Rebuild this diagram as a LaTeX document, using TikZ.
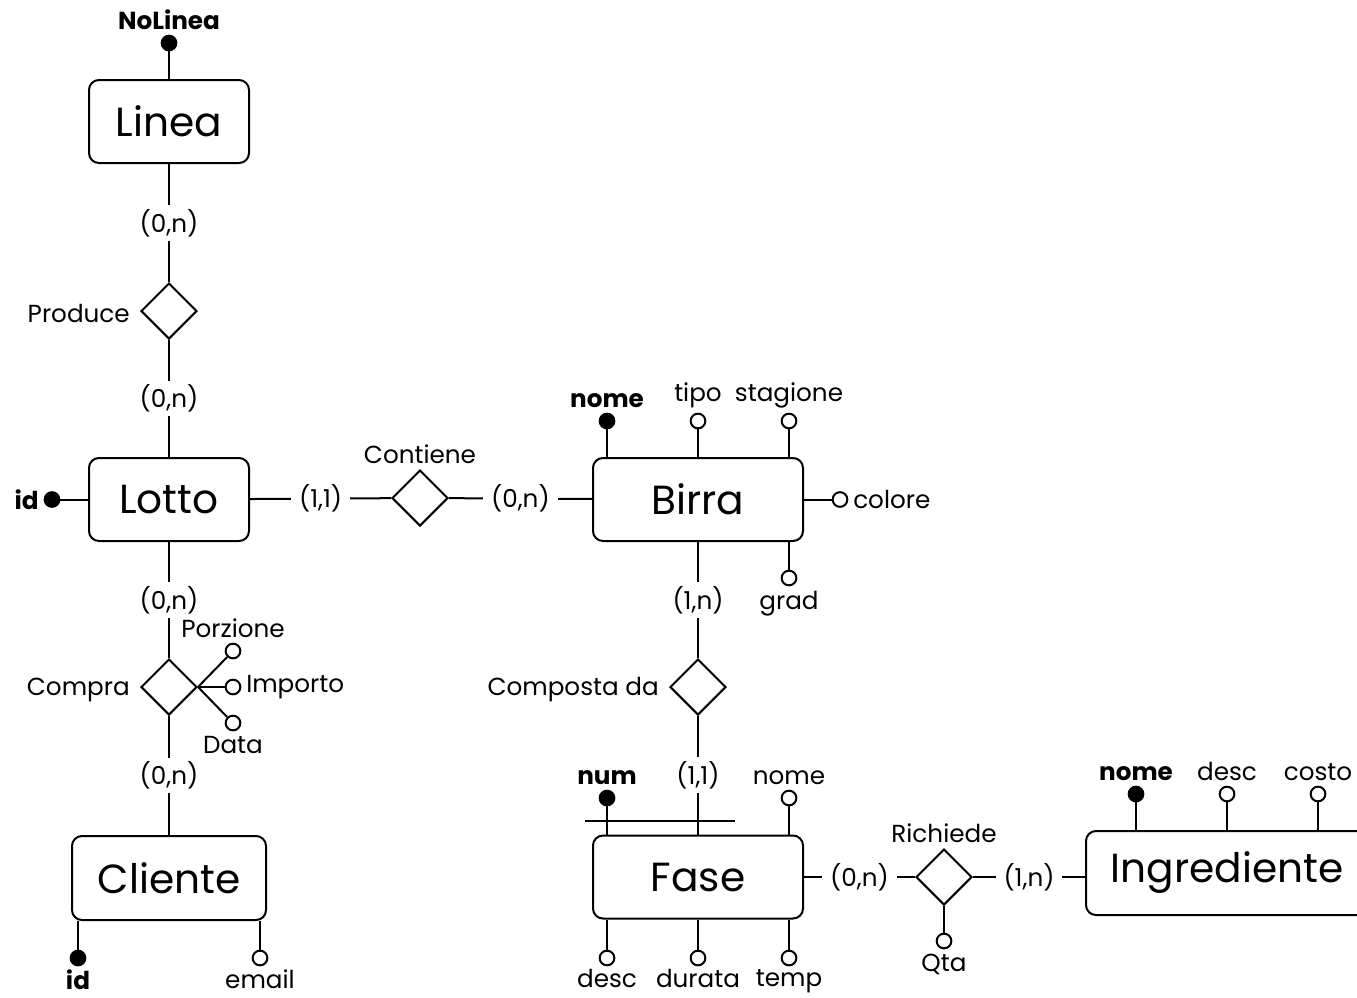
\documentclass[tikz,border=0pt]{standalone}
\usepackage{fontspec}
\setmainfont{Poppins}
\usetikzlibrary{positioning,shapes.geometric,calc}
\newcommand{\labfont}{\fontsize{18.5}{22}\selectfont}
\tikzset{
  ent/.style  = {rectangle, draw, rounded corners=7.5pt, line width=1.5pt,
                 inner sep=0pt, font=\fontsize{30.5}{36}\selectfont,
                 minimum width=120pt, minimum height=62.25pt},
  rel/.style  = {diamond, draw, aspect=1, line width=1.5pt, inner sep=0pt,
                 minimum width=42pt, minimum height=42pt},
  att/.style  = {circle, draw, line width=1.5pt, inner sep=0pt,
                 minimum size=11pt, fill=white},
  key/.style  = {att, fill=black},
  lab/.style  = {font=\labfont, inner sep=1.5pt},
  blab/.style = {lab, label distance=0.5pt},
  rlab/.style = {lab, label distance=6pt, yshift=-2pt},
  card/.style = {font=\labfont, fill=white, inner xsep=6pt, inner ysep=3pt},
  con/.style  = {line width=1.5pt}
}

\begin{document}
\begin{tikzpicture}[x=0.75pt,y=-0.75pt,label distance=2pt]
  \useasboundingbox (0,0) rectangle (1357,997);
  % entities
  \node[ent] (linea) at (169,121.5) {Linea};
  \node[ent] (lotto) at (169,499.5) {Lotto};
  \node[ent,minimum width=145.5pt,minimum height=63pt] (cliente) at (169,878) {Cliente};
  \node[ent,minimum width=157.5pt] (birra) at (698,499.5) {Birra};
  \node[ent,minimum width=157.5pt] (fase) at (698,877) {Fase};
  \node[ent,minimum width=211.5pt,minimum height=63pt] (ingr) at (1227,873) {Ingrediente};
  % relationships
  \node[rel,label={[rlab]left:Produce}] (produce) at (169,311) {};
  \node[rel,label={[lab]above:Contiene}] (contiene) at (420,498) {};
  \node[rel,label={[rlab]left:Compra}] (compra) at (169,687) {};
  \node[rel,label={[rlab]left:Composta da}] (composta) at (698,687) {};
  \node[rel,label={[lab]above:Richiede}] (richiede) at (944,877) {};
  % links
  \draw[con] (linea) -- node[card]{(0,n)} (produce);
  \draw[con] (produce) -- node[card]{(0,n)} (lotto);
  \draw[con] (lotto) -- node[card]{(1,1)} (contiene);
  \draw[con] (contiene) -- node[card]{(0,n)} (birra);
  \draw[con] (lotto) -- node[card]{(0,n)} (compra);
  \draw[con] (compra) -- node[card]{(0,n)} (cliente);
  \draw[con] (birra) -- node[card]{(1,n)} (composta);
  \draw[con] (composta) -- node[card]{(1,1)} (fase);
  \draw[con] (fase) -- node[card]{(0,n)} (richiede);
  \draw[con] (richiede) -- node[card]{(1,n)} (ingr.west |- richiede);
  % attributes of Linea and Lotto
  \node[key,label={[lab]above:\textbf{NoLinea}}] (lnum) at (169,43) {};
  \draw[con] (lnum) -- (linea);
  \node[key,label={[lab]left:\textbf{id}}] (lid) at (52,499.5) {};
  \draw[con] (lid) -- (lotto);
  % attributes of Compra
  \node[att,label={[lab]above:Porzione}] (cporz) at (233,651) {};
  \node[att,label={[lab]right:Importo}] (cimp) at (233,687) {};
  \node[att,label={[lab]below:Data}] (cdata) at (233,723) {};
  \foreach \a in {cporz,cimp,cdata}
    \draw[con] (compra.east) -- (\a);
  % attributes of Cliente
  \node[key,label={[blab]below:\textbf{id}}] (clid) at (78,958) {};
  \node[att,label={[blab]below:email}] (clmail) at (260,958) {};
  \draw[con] (clid) -- (clid |- cliente.south);
  \draw[con] (clmail) -- (clmail |- cliente.south);
  % attributes of Birra
  \node[key,label={[lab]above:\textbf{nome}}] (bnome) at (607,421) {};
  \node[att,label={[lab]above:tipo}] (btipo) at (698,421) {};
  \node[att,label={[lab]above:stagione}] (bstag) at (789,421) {};
  \node[att,label={[lab]right:colore}] (bcol) at (840,499.5) {};
  \node[att,label={[lab]below:grad}] (bgrad) at (789,578) {};
  \foreach \a in {bnome,btipo,bstag}
    \draw[con] (\a) -- (\a |- birra.north);
  \draw[con] (bcol) -- (birra);
  \draw[con] (bgrad) -- (bgrad |- birra.south);
  % attributes of Fase
  \node[key,label={[lab]above:\textbf{num}}] (fnum) at (607,798) {};
  \node[att,label={[lab]above:nome}] (fnome) at (789,798) {};
  \node[att,label={[blab]below:desc}] (fdesc) at (607,958) {};
  \node[att,label={[blab]below:durata}] (fdur) at (698,958) {};
  \node[att,label={[blab]below:temp}] (ftemp) at (789,958) {};
  \foreach \a in {fnum,fnome}
    \draw[con] (\a) -- (\a |- fase.north);
  \foreach \a in {fdesc,fdur,ftemp}
    \draw[con] (\a) -- (\a |- fase.south);
  % external identifier
  \coordinate (idl) at (585,821);
  \coordinate (idr) at (735,821);
  \draw[con] (idl) -- (idr);
  % attribute of Richiede
  \node[att,label={[lab]below:Qta}] (rqta) at (944,941) {};
  \draw[con] (rqta) -- (richiede);
  % attributes of Ingrediente
  \node[key,label={[lab]above:\textbf{nome}}] (inome) at (1136,794) {};
  \node[att,label={[lab]above:desc}] (idesc) at (1227,794) {};
  \node[att,label={[lab]above:costo}] (icosto) at (1318,794) {};
  \foreach \a in {inome,idesc,icosto}
    \draw[con] (\a) -- (\a |- ingr.north);
\end{tikzpicture}
\end{document}
